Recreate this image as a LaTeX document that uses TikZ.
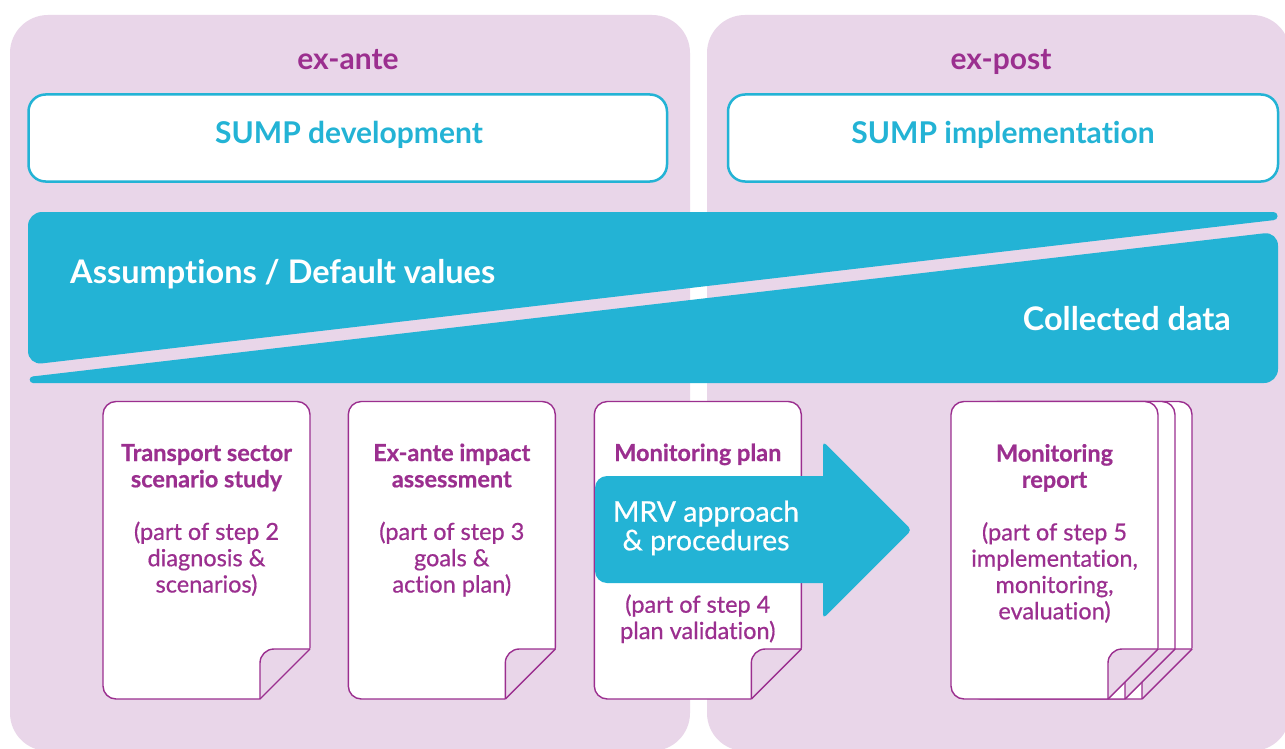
\documentclass[tikz,border=0pt]{standalone}
\usepackage{fontspec}
\setmainfont{Lato}[Ligatures=NoCommon]
\newfontfamily\medfont{Lato}[Ligatures=NoCommon, FakeBold=0.6]
\definecolor{panel}{HTML}{E9D6E9}
\definecolor{cy}{HTML}{23B3D5}
\definecolor{pu}{HTML}{9B2F8F}
\newcommand\hd[1]{\textbf{#1}}
\tikzset{
  panelbg/.style={fill=panel, rounded corners=38pt},
  paneltitle/.style={text=pu, font=\bfseries\fontsize{30}{34}\selectfont, inner sep=0pt, anchor=base},
  sumpbox/.style={draw=cy, line width=2.5pt, fill=white, rounded corners=17pt, minimum height=87pt, inner sep=0pt},
  sumptext/.style={text=cy, font=\bfseries\fontsize{30}{34}\selectfont, inner sep=0pt, anchor=base},
  wedgetext/.style={text=white, font=\bfseries\fontsize{32.5}{36}\selectfont, inner sep=0pt},
  docline/.style={draw=pu, line width=1.4pt, line join=round},
  doctext/.style={text=pu, font=\medfont\fontsize{23.5}{26.3}\selectfont, inner sep=0pt, anchor=base},
  mrvtext/.style={text=white, font=\medfont\fontsize{28.5}{25.5}\selectfont, inner sep=0pt, anchor=base},
}
% paper sheet with folded corner: #1 = left x, #2 = top y
\newcommand\paperdoc[2]{%
  \begin{scope}
    \clip ({#1-5},{#2-5}) -- ({#1+212},{#2-5}) -- ({#1+212},{#2+242.5}) -- ({#1+152},{#2+302.5}) -- ({#1-5},{#2+302.5}) -- cycle;
    \draw[docline, fill=white, rounded corners=13pt] (#1,#2) rectangle ({#1+207},{#2+297.5});
  \end{scope}
  \filldraw[docline, fill=panel, rounded corners=14pt] ({#1+157},{#2+297.5}) -- ({#1+157},{#2+247.5}) -- ({#1+207},{#2+247.5});
  \draw[docline] ({#1+207},{#2+247.5}) -- ({#1+157},{#2+297.5});
}
\begin{document}
\begin{tikzpicture}[x=1pt,y=-1pt]
  \useasboundingbox (0,0) rectangle (1285,749);
  \fill[white] (0,0) rectangle (1285,749);
  % panels
  \fill[panelbg] (10,15) rectangle (690,751);
  \fill[panelbg] (707,15) rectangle (1290,751);
  \node[paneltitle] (exante) at (348,69.5) {ex-ante};
  \node[paneltitle] (expost) at (1001,69.5) {ex-post};
  % SUMP boxes
  \node[sumpbox, minimum width=638.5pt] (devbox) at (347.75,138) {};
  \node[sumpbox, minimum width=550pt] (impbox) at (1003,138) {};
  \node[sumptext] (devtext) at (349,144) {SUMP development};
  \node[sumptext] (imptext) at (1003,144) {SUMP implementation};
  % wedges
  \fill[cy, rounded corners=14pt] (1273.5,212) -- (28,212) -- (28,365) -- (1273.5,220.15);
  \fill[cy] (1273.5,216.07) circle (4.07);
  \fill[cy, rounded corners=14pt] (33,383) -- (1278,383) -- (1278,231.7) -- (33,376.4);
  \fill[cy] (33,379.7) circle (3.3);
  \node[wedgetext, anchor=base west] (assume) at (70,283.5) {Assumptions / Default values};
  \node[wedgetext, anchor=base east] (collect) at (1231,330) {Collected data};
  % documents
  \paperdoc{103}{401.5}
  \paperdoc{348.3}{401.5}
  \paperdoc{594.3}{401.5}
  \paperdoc{985}{401.5}
  \paperdoc{968}{401.5}
  \paperdoc{951}{401.5}
  % arrow
  \fill[cy, rounded corners=12pt] (830,476) -- (595,476) -- (595,583) -- (830,583);
  \fill[cy, rounded corners=4pt] (823,441.5) -- (911.5,530) -- (823,618.5) -- cycle;
  % texts
  \node[doctext] (d1text) at (206.5,461) {\begin{tabular}[t]{@{}c@{}}\hd{Transport sector}\\ \hd{scenario study}\\ \\ (part of step 2\\ diagnosis \&\\ scenarios)\end{tabular}};
  \node[doctext] (d2text) at (451.8,461) {\begin{tabular}[t]{@{}c@{}}\hd{Ex-ante impact}\\ \hd{assessment}\\ \\ (part of step 3\\ goals \&\\ action plan)\end{tabular}};
  \node[doctext] (d3title) at (697.8,461) {\hd{Monitoring plan}};
  \node[doctext] (d3text) at (697.8,612.7) {\begin{tabular}[t]{@{}c@{}}(part of step 4\\ plan validation)\end{tabular}};
  \node[doctext] (d4text) at (1054.5,461.5) {\begin{tabular}[t]{@{}c@{}}\hd{Monitoring}\\ \hd{report}\\ \\ (part of step 5\\ implementation,\\ monitoring,\\ evaluation)\end{tabular}};
  \node[mrvtext] (mrv) at (706,521.7) {\begin{tabular}[t]{@{}c@{}}MRV approach\\ \& procedures\end{tabular}};
\end{tikzpicture}
\end{document}
